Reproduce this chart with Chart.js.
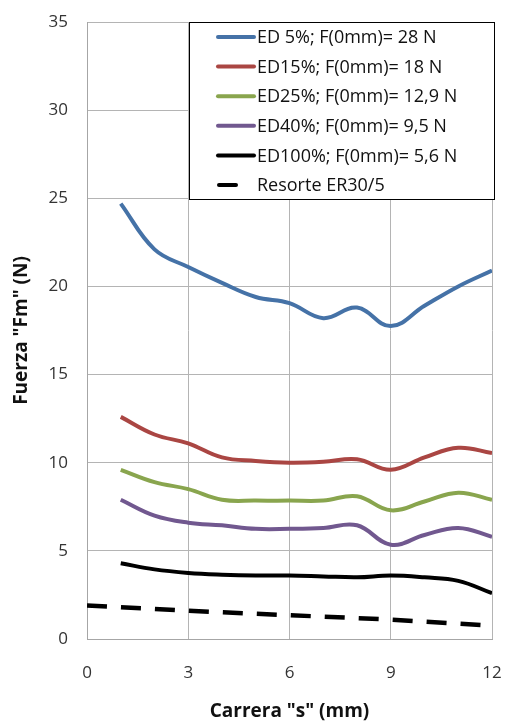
<!DOCTYPE html>
<html>
<head>
<meta charset="utf-8">
<script src="https://cdn.jsdelivr.net/npm/chart.js@4"></script>
<style>
body{margin:0;background:#fff}
#caja{width:506px;height:721px;position:relative}
</style>
</head>
<body>
<div id="caja"><canvas id="grafico"></canvas></div>
<script>
let carrera = [1,2,3,4,5,6,7,8,9,10,11,12]

let ed5 = [24.7,22.1,21.1,20.2,19.4,19.05,18.2,18.8,17.75,18.9,20.0,20.9]
let ed15 = [12.6,11.6,11.1,10.3,10.1,10.0,10.05,10.2,9.6,10.3,10.85,10.55]
let ed25 = [9.6,8.9,8.5,7.9,7.85,7.85,7.85,8.1,7.3,7.8,8.3,7.9]
let ed40 = [7.9,7.0,6.6,6.45,6.25,6.25,6.3,6.45,5.35,5.9,6.3,5.8]
let ed100 = [4.3,3.95,3.75,3.65,3.6,3.6,3.55,3.5,3.6,3.5,3.3,2.6]

let carreraResorte = [0,3,6,9,12]
let resorte = [1.9,1.6,1.35,1.1,0.75]

let nombres = ["ED 5%; F(0mm)= 28 N","ED15%; F(0mm)= 18 N","ED25%; F(0mm)= 12,9 N","ED40%; F(0mm)= 9,5 N","ED100%; F(0mm)= 5,6 N","Resorte ER30/5"]
let colores = ["#4572A7","#AA4643","#89A54E","#71588F","#000000","#000000"]

let ticksX = [0,3,6,9,12]
let ticksY = [0,5,10,15,20,25,30,35]

let fuente = "'Open Sans', Lato, sans-serif"

function puntos(xs, ys){
return xs.map((x,i) => ({x:x, y:ys[i]}))
}

let series = [ed5,ed15,ed25,ed40,ed100]

let datasets = series.map((s,i) => ({
label:nombres[i],
data:puntos(carrera,s),
borderColor:colores[i],
borderWidth:4,
pointRadius:0,
tension:0.4,
fill:false
}))

datasets.push({
label:nombres[5],
data:puntos(carreraResorte,resorte),
borderColor:colores[5],
borderWidth:4.5,
borderDash:[20,14],
pointRadius:0,
tension:0,
fill:false
})

// leyenda dibujada dentro del area del grafico
let leyenda = {
id:"leyenda",
afterDraw(chart){
let ctx = chart.ctx
let x0 = 189, y0 = 22, x1 = 495, y1 = 200
ctx.save()
ctx.fillStyle = "#fff"
ctx.fillRect(x0,y0,x1-x0,y1-y0)
ctx.strokeStyle = "#000"
ctx.lineWidth = 1
ctx.strokeRect(x0+0.5,y0+0.5,x1-x0-1,y1-y0-1)
ctx.font = "18px " + fuente
ctx.textBaseline = "middle"
ctx.fillStyle = "#111"
chart.data.datasets.forEach((d,i) => {
let y = 37 + i*29.6
ctx.strokeStyle = d.borderColor
ctx.lineWidth = 4
ctx.lineCap = "round"
ctx.beginPath()
if(d.borderDash){
ctx.moveTo(219,y)
ctx.lineTo(236,y)
}else{
ctx.moveTo(218,y)
ctx.lineTo(254,y)
}
ctx.stroke()
ctx.fillText(d.label,257,y+1)
})
ctx.restore()
}
}

new Chart(document.getElementById("grafico"),{
type:"line",
data:{datasets:datasets},
options:{
responsive:true,
maintainAspectRatio:false,
animation:false,
layout:{padding:{top:22,right:14,left:0,bottom:0}},
plugins:{legend:{display:false},tooltip:{enabled:false}},
scales:{
x:{
type:"linear",
min:0,max:12,
afterBuildTicks(scale){ scale.ticks = ticksX.map(v => ({value:v})) },
afterFit(scale){ scale.height = 82; scale.paddingLeft = 0; scale.paddingRight = 0 },
ticks:{color:"#333",font:{family:fuente,size:17},padding:24},
grid:{color:"#b4b4b4",drawTicks:false,lineWidth:1},
border:{color:"#a6a6a6"},
title:{display:true,text:'Carrera "s" (mm)',color:"#111",font:{family:fuente,size:19,weight:"bold",lineHeight:1},padding:{top:0,bottom:0}}
},
y:{
min:0,max:35,
afterBuildTicks(scale){ scale.ticks = ticksY.map(v => ({value:v})) },
afterFit(scale){ scale.width = 87; scale.paddingTop = 0; scale.paddingBottom = 0 },
ticks:{color:"#333",font:{family:fuente,size:17},padding:19},
grid:{color:"#b4b4b4",drawTicks:false,lineWidth:1},
border:{color:"#a6a6a6"},
title:{display:true,text:'Fuerza "Fm" (N)',color:"#111",font:{family:fuente,size:19,weight:"bold"},padding:{top:10,bottom:0}}
}
}
},
plugins:[leyenda]
})
</script>
</body>
</html>
